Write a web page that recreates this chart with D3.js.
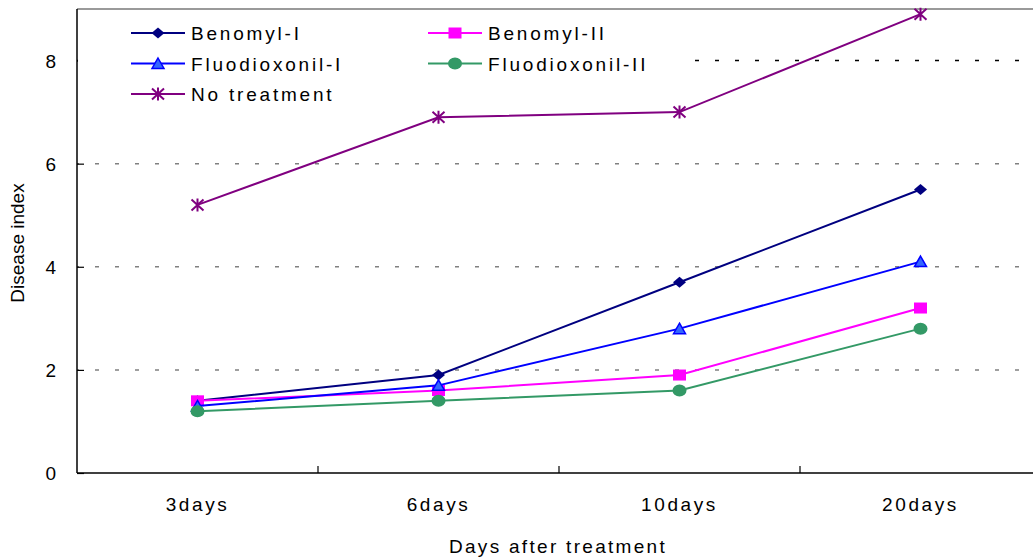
<!DOCTYPE html>
<html>
<head>
<meta charset="utf-8">
<script src="https://cdn.jsdelivr.net/npm/d3@7"></script>
<style>
	body { margin: 0; background: #fff; }
	text { font-family: "Liberation Sans", Arial, sans-serif; fill: #000; }
</style>
</head>
<body>
<div id="chart"></div>
<script>

///////////////////////////////////////////////////////////////////////////
//////////////////////////////// Data /////////////////////////////////////
///////////////////////////////////////////////////////////////////////////

var days = ["3days", "6days", "10days", "20days"];
var seriesNames = ["Benomyl-I", "Benomyl-II", "Fluodioxonil-I", "Fluodioxonil-II", "No treatment"];
var benomylI = [1.4, 1.9, 3.7, 5.5];
var benomylII = [1.4, 1.6, 1.9, 3.2];
var fluodioxonilI = [1.3, 1.7, 2.8, 4.1];
var fluodioxonilII = [1.2, 1.4, 1.6, 2.8];
var noTreatment = [5.2, 6.9, 7.0, 8.9];
var yTicks = [0, 2, 4, 6, 8];

var seriesValues = [benomylI, benomylII, fluodioxonilI, fluodioxonilII, noTreatment];

//Look of every series, in the same order as the names
var styles = [
	{ stroke: "#000080", fill: "#000080", mark: "diamond" },
	{ stroke: "#FF00FF", fill: "#FF00FF", mark: "square" },
	{ stroke: "#0000FF", fill: "#3366FF", mark: "triangle" },
	{ stroke: "#339966", fill: "#339966", mark: "circle" },
	{ stroke: "#800080", fill: "none", mark: "star" }
];

///////////////////////////////////////////////////////////////////////////
//////////////////////////////// Set up ///////////////////////////////////
///////////////////////////////////////////////////////////////////////////

var totalWidth = 1033,
	totalHeight = 560;

var plot = { left: 77, top: 9, right: 1041, bottom: 473 };

var svg = d3.select("#chart")
	.append("svg")
	.attr("width", totalWidth)
	.attr("height", totalHeight);

var x = d3.scaleBand()
	.domain(days)
	.range([plot.left, plot.right]);

var y = d3.scaleLinear()
	.domain([0, 9])
	.range([plot.bottom, plot.top]);

///////////////////////////////////////////////////////////////////////////
///////////////////////////// Grid and axes ///////////////////////////////
///////////////////////////////////////////////////////////////////////////

//Dashed gridlines
svg.selectAll(".grid")
	.data(yTicks.filter(function(d) { return d > 0; }))
	.enter().append("line")
	.attr("class", "grid")
	.attr("x1", plot.left)
	.attr("x2", plot.right)
	.attr("y1", function(d) { return y(d); })
	.attr("y2", function(d) { return y(d); })
	.style("stroke", function(d) { return d === 8 ? "#000" : "#808080"; })
	.style("stroke-width", 1.5)
	.style("stroke-dasharray", "4,16")
	.style("stroke-dashoffset", 2);

//Grey frame on top
svg.append("line")
	.attr("x1", plot.left).attr("x2", plot.right)
	.attr("y1", plot.top).attr("y2", plot.top)
	.style("stroke", "#9a9a9a")
	.style("stroke-width", 2);

//Y axis
var yAxis = svg.append("g")
	.attr("transform", "translate(" + plot.left + ",0)")
	.call(d3.axisRight(y).tickValues(yTicks).tickSize(7).tickFormat(""));
yAxis.select(".domain").remove();
yAxis.selectAll(".tick line").style("stroke", "#000").style("stroke-width", 1.2);

svg.append("line")
	.attr("x1", plot.left).attr("x2", plot.left)
	.attr("y1", plot.top).attr("y2", plot.bottom)
	.style("stroke", "#000")
	.style("stroke-width", 1.5);

svg.selectAll(".yLabel")
	.data(yTicks)
	.enter().append("text")
	.attr("class", "yLabel")
	.attr("x", 56)
	.attr("y", function(d) { return y(d) + 7; })
	.style("text-anchor", "end")
	.style("font-size", "19px")
	.text(function(d) { return d; });

//X axis, ticks sit between the categories
var xBoundaries = days.slice(1);
svg.selectAll(".xTick")
	.data(xBoundaries)
	.enter().append("line")
	.attr("class", "xTick")
	.attr("x1", function(d) { return x(d); })
	.attr("x2", function(d) { return x(d); })
	.attr("y1", plot.bottom)
	.attr("y2", plot.bottom - 7)
	.style("stroke", "#000")
	.style("stroke-width", 1.2);

svg.append("line")
	.attr("x1", plot.left).attr("x2", plot.right)
	.attr("y1", plot.bottom).attr("y2", plot.bottom)
	.style("stroke", "#000")
	.style("stroke-width", 1.5);

svg.selectAll(".xLabel")
	.data(days)
	.enter().append("text")
	.attr("class", "xLabel")
	.attr("x", function(d) { return x(d) + x.bandwidth()/2; })
	.attr("y", 511)
	.style("text-anchor", "middle")
	.style("font-size", "19px")
	.style("letter-spacing", "2.6px")
	.text(function(d) { return d; });

//Axis titles
svg.append("text")
	.attr("x", 558)
	.attr("y", 553)
	.style("text-anchor", "middle")
	.style("font-size", "19px")
	.style("letter-spacing", "2.3px")
	.text("Days after treatment");

svg.append("text")
	.attr("transform", "translate(24,243) rotate(-90)")
	.style("text-anchor", "middle")
	.style("font-size", "19px")
	.text("Disease index");

///////////////////////////////////////////////////////////////////////////
//////////////////////////////// Markers //////////////////////////////////
///////////////////////////////////////////////////////////////////////////

function drawMarker(g, st) {
	if (st.mark === "diamond") {
		g.append("path").attr("d", "M0,-5.5L6.5,0L0,5.5L-6.5,0Z")
			.style("fill", st.fill);
	} else if (st.mark === "square") {
		g.append("rect").attr("x", -6.5).attr("y", -5.5).attr("width", 13).attr("height", 11)
			.style("fill", st.fill);
	} else if (st.mark === "triangle") {
		g.append("path").attr("d", "M0,-5.5L6,5L-6,5Z")
			.style("fill", st.fill).style("stroke", st.stroke).style("stroke-width", 1.5);
	} else if (st.mark === "circle") {
		g.append("ellipse").attr("rx", 7).attr("ry", 6)
			.style("fill", st.fill);
	} else if (st.mark === "star") {
		g.append("path").attr("d", "M-6,-5.5L6,5.5M-6,5.5L6,-5.5M0,-6.5L0,6.5")
			.style("fill", "none").style("stroke", st.stroke).style("stroke-width", 2);
	}
}

///////////////////////////////////////////////////////////////////////////
//////////////////////////////// Legend ///////////////////////////////////
///////////////////////////////////////////////////////////////////////////

//White box behind legend hides the top gridline
svg.append("rect")
	.attr("x", plot.left + 1)
	.attr("y", 14)
	.attr("width", 608)
	.attr("height", 96)
	.style("fill", "#fff");

var legend = svg.selectAll(".legendItem")
	.data(seriesNames)
	.enter().append("g")
	.attr("class", "legendItem")
	.attr("transform", function(d, i) {
		var col = i % 2, row = Math.floor(i / 2);
		return "translate(" + (131 + col * 297) + "," + (33 + row * 30.5) + ")";
	});

legend.append("line")
	.attr("x1", 0).attr("x2", 54)
	.style("stroke", function(d, i) { return styles[i].stroke; })
	.style("stroke-width", 2);

legend.each(function(d, i) {
	drawMarker(d3.select(this).append("g").attr("transform", "translate(27,0)"), styles[i]);
});

legend.append("text")
	.attr("x", 60)
	.attr("y", 7)
	.style("font-size", "19px")
	.style("letter-spacing", "2.8px")
	.text(function(d) { return d; });

///////////////////////////////////////////////////////////////////////////
//////////////////////////////// Series ///////////////////////////////////
///////////////////////////////////////////////////////////////////////////

var line = d3.line()
	.x(function(d, i) { return x(days[i]) + x.bandwidth()/2; })
	.y(function(d) { return y(d); });

seriesValues.forEach(function(values, s) {
	var st = styles[s];
	var g = svg.append("g").attr("class", "series");

	g.append("path")
		.datum(values)
		.attr("d", line)
		.style("fill", "none")
		.style("stroke", st.stroke)
		.style("stroke-width", 2);

	g.selectAll(".marker")
		.data(values)
		.enter().append("g")
		.attr("class", "marker")
		.attr("transform", function(d, i) {
			return "translate(" + (x(days[i]) + x.bandwidth()/2) + "," + y(d) + ")";
		})
		.each(function() { drawMarker(d3.select(this), st); });
});

</script>
</body>
</html>
